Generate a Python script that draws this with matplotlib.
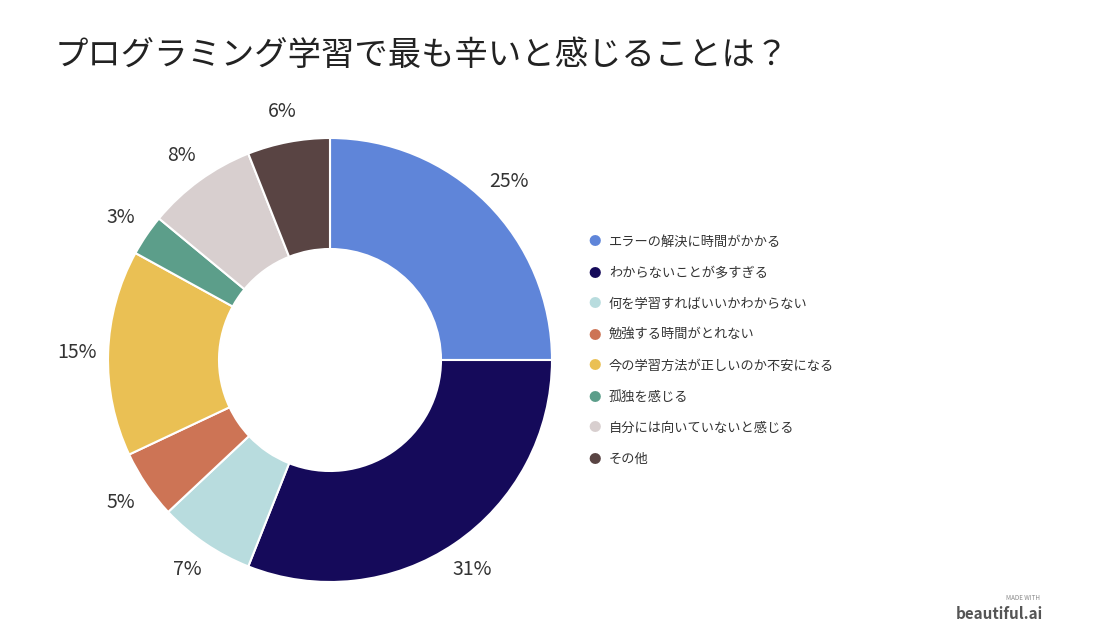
import matplotlib
matplotlib.use("Agg")
import matplotlib.pyplot as plt
import numpy as np

plt.rcParams["font.family"] = "Noto Sans CJK JP"

title = "プログラミング学習で最も辛いと感じることは？"
categories = ["エラーの解決に時間がかかる", "わからないことが多すぎる", "何を学習すればいいかわからない",
              "勉強する時間がとれない", "今の学習方法が正しいのか不安になる", "孤独を感じる",
              "自分には向いていないと感じる", "その他"]
values = [25, 31, 7, 5, 15, 3, 8, 6]
colors = ["#5F85D9", "#150A5A", "#B8DCDE", "#CD7455", "#EAC054", "#5C9E8A", "#D8CFCF", "#594443"]

W, H = 1100, 638
fig = plt.figure(figsize=(W/100, H/100), dpi=100)
cx, cy, r = 330, 360, 222
ax = fig.add_axes([(cx-r)/W, (H-cy-r)/H, 2*r/W, 2*r/H])
wedges, texts = ax.pie(values, colors=colors, startangle=90, counterclock=False,
                       labels=[f"{v}%" for v in values], labeldistance=1.14,
                       wedgeprops=dict(width=0.5, edgecolor="white", linewidth=1.5),
                       textprops=dict(fontsize=14, color="#333333"))
for t in texts:
    t.set_ha("center"); t.set_va("center")
ax.set_xlim(-1, 1); ax.set_ylim(-1, 1); ax.set_aspect("equal")

fig.text(55/W, 1-55/H, title, fontsize=24, color="#222222", va="center", ha="left")

for i, (c, col) in enumerate(zip(categories, colors)):
    y = 1 - (242 + i*31)/H
    fig.text(595/W, y, "●", color=col, fontsize=9, va="center", ha="center")
    fig.text(609/W, y, c, fontsize=9.5, color="#333333", va="center", ha="left")

fig.text(1040/W, 1-598/H, "MADE WITH", fontsize=4.5, color="#888888", ha="right", va="center")
fig.text(1043/W, 1-614/H, "beautiful.ai", fontsize=11, fontweight="bold", color="#555555", ha="right", va="center")

fig.savefig("out.png", dpi=100, facecolor="white")
